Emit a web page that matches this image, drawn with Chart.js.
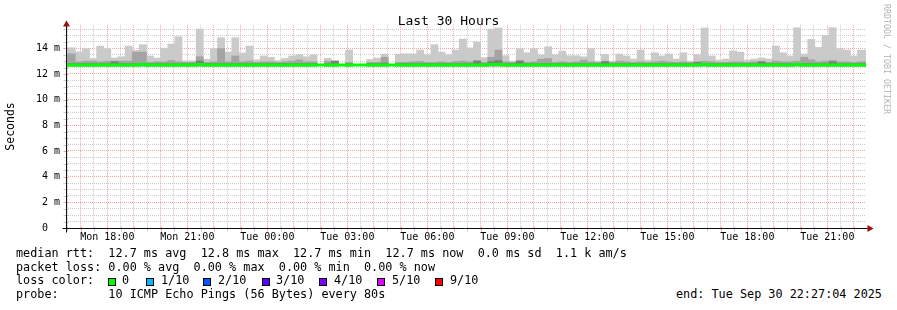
<!DOCTYPE html>
<html><head><meta charset="utf-8">
<script src="https://cdn.jsdelivr.net/npm/chart.js@4.4.1/dist/chart.umd.min.js"></script>
<style>
html,body{margin:0;padding:0;background:#fff;width:897px;height:310px;overflow:hidden;}
#wrap{position:relative;width:897px;height:310px;background:#fff;}
#c{position:absolute;left:0;top:0;}
.t{position:absolute;font-family:"DejaVu Sans Mono",monospace;white-space:pre;color:#000;line-height:1;}
.lg{font-size:11.8px;}
.sq{position:absolute;width:6px;height:6px;border:1px solid #000;}
</style></head><body>
<div id="wrap">
<canvas id="c" width="897" height="248" style="width:897px;height:248px"></canvas>
<div class="t" style="left:0;width:897px;text-align:center;top:13.7px;font-size:13px;" id="title"></div>
<div class="t" id="wm" style="left:891px;top:4px;font-size:8.3px;color:#b4b4b4;transform:rotate(90deg);transform-origin:0 0;"></div>
<div class="t lg" id="l1" style="left:16px;top:248.3px;"></div>
<div class="t lg" id="l2" style="left:16px;top:261.8px;"></div>
<div class="t lg" id="l3" style="left:16px;top:275.3px;"></div>
<div class="t lg" id="l4" style="left:16px;top:288.8px;"></div>
<div class="t lg" id="lend" style="left:676px;top:288.8px;"></div>
</div>
<script>
// ---------------- data ----------------
const chartTitle = 'Last 30 Hours';
const yAxisTitle = 'Seconds';
const watermark = 'RRDTOOL / TOBI OETIKER';
const spanHours = 30;
const startClockHour = 16 + 27/60 + 4/3600;   // Mon 16:27:04 (end - 30 h)
const firstSlotClockHour = 16 + 16/60;        // Mon 16:16, first 16-minute slot
const slotMinutes = 16;
const xTickLabels = ['Mon 18:00','Mon 21:00','Tue 00:00','Tue 03:00','Tue 06:00','Tue 09:00','Tue 12:00','Tue 15:00','Tue 18:00','Tue 21:00'];
const firstLabelClockHour = 18;
const labelEveryHours = 3;
const yLabelValues = [0, 2, 4, 6, 8, 10, 12, 14];
const yLabelText = ['0  ', '2 m', '4 m', '6 m', '8 m', '10 m', '12 m', '14 m'];
const yMax = 15.82;            // ms
const smokeFloor = 12.62;      // ms, lowest ping (hidden under the median line)

// smoke: highest ping per 16-minute slot (ms)
const smokeMax = [
  14.0, 14.04, 13.72, 13.97, 13.2, 14.17, 13.97, 13.24, 13.34, 14.17,
  13.84, 14.28, 13.4, 13.24, 14.0, 14.33, 14.9, 13.03, 13.03, 15.5,
  13.14, 13.97, 14.82, 13.7, 14.82, 13.63, 14.17, 13.1, 13.4, 13.3,
  13.05, 13.2, 13.4, 13.5, 13.34, 13.5, null, 13.22, 13.0, null,
  13.86, null, null, 13.13, 13.24, 13.55, null, 13.55, 13.57, 13.57,
  13.86, 13.5, 14.28, 13.7, 13.5, 13.86, 14.72, 14.02, 14.49, 13.27,
  15.5, 15.58, 13.42, 13.0, 13.97, 13.65, 13.97, 13.5, 14.12, 13.5,
  13.78, 13.42, 13.42, 13.34, 13.97, 13.0, 13.53, 13.0, 13.55, 13.4,
  13.16, 13.86, 13.08, 13.65, 13.4, 13.55, 13.16, 13.65, 13.0, 13.5,
  15.58, 13.4, 13.08, 13.16, 13.8, 13.7, 13.08, 13.16, 13.24, 13.16,
  14.17, 13.65, 13.4, 15.6, 13.55, 14.7, 14.07, 15.0, 15.6, 13.97,
  13.86, 13.4, 13.86, 13.86
];
// second highest ping
const smokeMid = [
  13.57, 13.57, 12.95, 13.0, 13.0, 12.95, 13.0, 13.0, 13.0, 13.0,
  13.7, 13.7, 12.9, 12.95, 12.95, 13.05, 12.95, 12.9, 12.9, 13.34,
  12.9, 12.95, 13.97, 12.95, 13.4, 12.95, 13.0, 12.9, 12.95, 12.95,
  12.9, 12.95, 13.0, 13.1, 12.95, 12.95, null, 13.0, 13.0, null,
  12.9, null, null, 12.9, 12.9, 13.3, null, 12.9, 12.9, 12.95,
  12.97, 12.9, 12.9, 12.95, 12.9, 12.97, 13.0, 12.95, 13.05, 12.9,
  13.3, 13.86, 12.95, 12.9, 13.05, 12.9, 12.95, 13.14, 13.2, 12.9,
  12.95, 12.9, 12.95, 13.08, 12.95, 12.9, 13.0, 12.9, 13.0, 12.95,
  12.9, 12.95, 12.9, 12.95, 13.0, 12.95, 12.9, 12.95, 12.9, 12.95,
  13.0, 12.95, 12.9, 12.9, 12.95, 12.95, 12.9, 12.95, 12.95, 12.9,
  13.0, 12.95, 12.95, 13.0, 13.3, 13.1, 12.95, 13.0, 13.05, 12.95,
  12.95, 12.9, 12.95, 12.95
];
// third highest ping
const smokeDark = [
  12.8, 12.8, 12.8, 12.8, 12.8, 12.8, 12.8, 12.95, 12.8, 12.8,
  12.8, 12.8, 12.8, 12.8, 12.8, 12.8, 12.8, 12.8, 12.8, 13.0,
  12.8, 12.8, 12.8, 12.8, 12.8, 12.8, 12.8, 12.8, 12.8, 12.8,
  12.8, 12.8, 12.8, 12.8, 12.8, 12.8, null, 12.8, 13.0, null,
  12.8, null, null, 12.8, 12.8, 12.85, null, 12.8, 12.8, 12.8,
  12.8, 12.8, 12.8, 12.8, 12.8, 12.8, 12.8, 12.8, 13.0, 12.8,
  12.95, 13.05, 12.8, 12.8, 13.0, 12.8, 12.8, 12.8, 12.8, 12.8,
  12.8, 12.8, 12.8, 12.8, 12.8, 12.8, 12.95, 12.8, 12.8, 12.8,
  12.8, 12.8, 12.8, 12.8, 12.8, 12.8, 12.8, 12.8, 12.8, 12.9,
  12.8, 12.8, 12.8, 12.8, 12.8, 12.8, 12.8, 12.8, 12.95, 12.8,
  12.8, 12.8, 12.8, 12.8, 12.8, 12.8, 12.8, 12.8, 12.95, 12.8,
  12.8, 12.8, 12.8, 12.8
];
// median rtt per slot
const medianRtt = [
  12.7, 12.7, 12.7, 12.7, 12.7, 12.7, 12.7, 12.7, 12.7, 12.7,
  12.7, 12.73, 12.7, 12.7, 12.7, 12.7, 12.7, 12.7, 12.7, 12.73,
  12.7, 12.7, 12.7, 12.7, 12.7, 12.7, 12.7, 12.7, 12.7, 12.7,
  12.7, 12.7, 12.7, 12.7, 12.7, 12.7, 12.7, 12.7, 12.7, 12.7,
  12.7, 12.7, 12.7, 12.7, 12.7, 12.7, 12.7, 12.7, 12.7, 12.7,
  12.7, 12.7, 12.7, 12.7, 12.7, 12.7, 12.7, 12.7, 12.7, 12.7,
  12.73, 12.73, 12.7, 12.7, 12.7, 12.7, 12.7, 12.7, 12.7, 12.7,
  12.7, 12.7, 12.7, 12.7, 12.7, 12.7, 12.7, 12.7, 12.7, 12.7,
  12.7, 12.7, 12.7, 12.7, 12.7, 12.7, 12.7, 12.7, 12.7, 12.7,
  12.73, 12.7, 12.7, 12.7, 12.7, 12.7, 12.7, 12.7, 12.7, 12.7,
  12.7, 12.7, 12.7, 12.73, 12.7, 12.7, 12.7, 12.7, 12.7, 12.7,
  12.7, 12.7, 12.7, 12.7
];
const legendLines = [
  'median rtt:  12.7 ms avg  12.8 ms max  12.7 ms min  12.7 ms now  0.0 ms sd  1.1 k am/s',
  'packet loss: 0.00 % avg  0.00 % max  0.00 % min  0.00 % now',
  'loss color:',
  'probe:       10 ICMP Echo Pings (56 Bytes) every 80s'
];
const lossLabels = ['0', '1/10', '2/10', '3/10', '4/10', '5/10', '9/10'];
const lossColors = ['#00ff00', '#00b8ff', '#0059ff', '#5e00ff', '#7e00ff', '#dd00ff', '#ff0000'];
const endText = 'end: Tue Sep 30 22:27:04 2025';

// ---------------- styles ----------------
const majorGrid = 'rgba(240,110,110,0.6)';
const minorGrid = 'rgba(170,170,170,0.6)';
const axisColor = '#101010';
const arrowColor = '#9a1010';
const monoFont = 'DejaVu Sans Mono';

// ---------------- text ----------------
document.getElementById('title').textContent = chartTitle;
document.getElementById('wm').textContent = watermark;
['l1','l2','l3','l4'].forEach((id, i) => document.getElementById(id).textContent = legendLines[i]);
document.getElementById('lend').textContent = endText;
const sqX = [108, 145.5, 203, 261.5, 319, 377, 435];
const lbX = [122, 161, 218, 276, 334, 392, 450];
const wrap = document.getElementById('wrap');
lossLabels.forEach((lab, i) => {
  const s = document.createElement('div');
  s.className = 'sq'; s.style.left = sqX[i] + 'px'; s.style.top = '277.5px'; s.style.background = lossColors[i];
  wrap.appendChild(s);
  const t = document.createElement('div');
  t.className = 't lg'; t.style.left = lbX[i] + 'px'; t.style.top = '275.3px'; t.textContent = lab;
  wrap.appendChild(t);
});

// ---------------- chart ----------------
const slotCenter = i => (firstSlotClockHour - startClockHour) + (i + 0.5) * slotMinutes / 60;
const range = (lo, hi) => hi.map((h, i) => ({x: slotCenter(i), y: h == null ? null : [lo[i] == null ? smokeFloor : lo[i], h]}));
const floorArr = smokeMax.map(() => smokeFloor);

const rrdAxes = {
  id: 'rrdAxes',
  afterDraw(chart) {
    const {ctx, chartArea: a} = chart;
    const xs = chart.scales.x, ys = chart.scales.y;
    const ax = Math.round(a.left) + 0.5;
    const ay = Math.round(ys.getPixelForValue(0)) + 0.5;
    ctx.save();
    ctx.lineWidth = 1;
    xs.ticks.forEach(t => {
      const px = Math.round(xs.getPixelForValue(t.value)) + 0.5;
      ctx.strokeStyle = t.kind === 'major' ? majorGrid : minorGrid;
      ctx.beginPath(); ctx.moveTo(px, ay - 2); ctx.lineTo(px, ay + 3); ctx.stroke();
    });
    ys.ticks.forEach(t => {
      const py = Math.round(ys.getPixelForValue(t.value)) + 0.5;
      ctx.strokeStyle = t.kind === 'major' ? majorGrid : minorGrid;
      ctx.beginPath(); ctx.moveTo(ax - 3, py); ctx.lineTo(ax + 2, py); ctx.stroke();
    });
    ctx.strokeStyle = axisColor;
    ctx.beginPath(); ctx.moveTo(ax, ay + 4); ctx.lineTo(ax, a.top - 2); ctx.stroke();
    ctx.beginPath(); ctx.moveTo(ax - 4, ay); ctx.lineTo(a.right + 2, ay); ctx.stroke();
    ctx.fillStyle = arrowColor;
    ctx.beginPath(); ctx.moveTo(ax, a.top - 4.5); ctx.lineTo(ax - 3.5, a.top + 1.5); ctx.lineTo(ax + 3.5, a.top + 1.5); ctx.closePath(); ctx.fill();
    ctx.beginPath(); ctx.moveTo(a.right + 7.5, ay); ctx.lineTo(a.right + 1.5, ay - 3.5); ctx.lineTo(a.right + 1.5, ay + 3.5); ctx.closePath(); ctx.fill();
    ctx.restore();
  }
};

const barBase = {type: 'bar', grouped: false, barPercentage: 1, categoryPercentage: 1, borderWidth: 0, clip: 0};

new Chart(document.getElementById('c'), {
  type: 'bar',
  data: {
    datasets: [
      Object.assign({}, barBase, {label: 'smoke1', data: range(floorArr, smokeMax), backgroundColor: '#cacaca', order: 4}),
      Object.assign({}, barBase, {label: 'smoke2', data: range(floorArr, smokeMid), backgroundColor: '#a4a4a4', order: 3}),
      Object.assign({}, barBase, {label: 'smoke3', data: range(floorArr, smokeDark), backgroundColor: '#7e7e7e', order: 2}),
      {type: 'line', label: 'median', data: medianRtt.map((v, i) => ({x: slotCenter(i), y: v})),
       borderColor: '#00ff00', borderWidth: 3, pointRadius: 0, stepped: 'middle', fill: false, order: 1, clip: 0}
    ]
  },
  options: {
    responsive: false, animation: false, devicePixelRatio: 1,
    layout: {padding: {left: 0, right: 31, top: 24.9, bottom: 0}},
    plugins: {legend: {display: false}, tooltip: {enabled: false}, title: {display: false}},
    scales: {
      x: {
        type: 'linear', min: 0, max: spanHours, offset: false, z: 1,
        grid: {offset: false, drawTicks: false, color: c => (c.tick && c.tick.kind === 'major') ? majorGrid : minorGrid, lineWidth: 1},
        border: {display: false, dash: [1, 1]},
        ticks: {autoSkip: false, maxRotation: 0, minRotation: 0, padding: 3, color: '#000',
                font: {family: monoFont, size: 10}, callback: (v, i, ticks) => ticks[i].text},
        afterBuildTicks: s => {
          const t = [];
          for (let c = Math.ceil(startClockHour * 2) / 2; c <= startClockHour + spanHours + 1e-9; c += 0.5) {
            const isHour = Math.abs(c - Math.round(c)) < 1e-9;
            const li = (Math.round(c) - firstLabelClockHour) / labelEveryHours;
            const text = (isHour && Number.isInteger(li) && li >= 0 && li < xTickLabels.length) ? xTickLabels[li] : '';
            t.push({value: c - startClockHour, kind: isHour ? 'major' : 'minor', text});
          }
          s.ticks = t;
        },
        afterFit: s => { s.height = 20; }
      },
      y: {
        type: 'linear', min: 0, max: yMax, z: 1,
        grid: {drawTicks: false, color: c => (c.tick && c.tick.kind === 'major') ? majorGrid : minorGrid, lineWidth: 1},
        border: {display: false, dash: [1, 1]},
        ticks: {autoSkip: false, padding: 6, color: '#000', font: {family: monoFont, size: 10},
                callback: v => { const i = yLabelValues.indexOf(v); return i >= 0 ? yLabelText[i] : ''; }},
        title: {display: true, text: yAxisTitle, color: '#000', font: {family: monoFont, size: 11.5}, padding: {top: 4, bottom: 0}},
        afterBuildTicks: s => {
          const t = [];
          for (let k = 0; k * 0.5 <= yMax; k++) t.push({value: k * 0.5, kind: (k % 4 === 0) ? 'major' : 'minor'});
          s.ticks = t;
        },
        afterFit: s => { s.width = 66; }
      }
    }
  },
  plugins: [rrdAxes]
});
</script>
</body></html>
